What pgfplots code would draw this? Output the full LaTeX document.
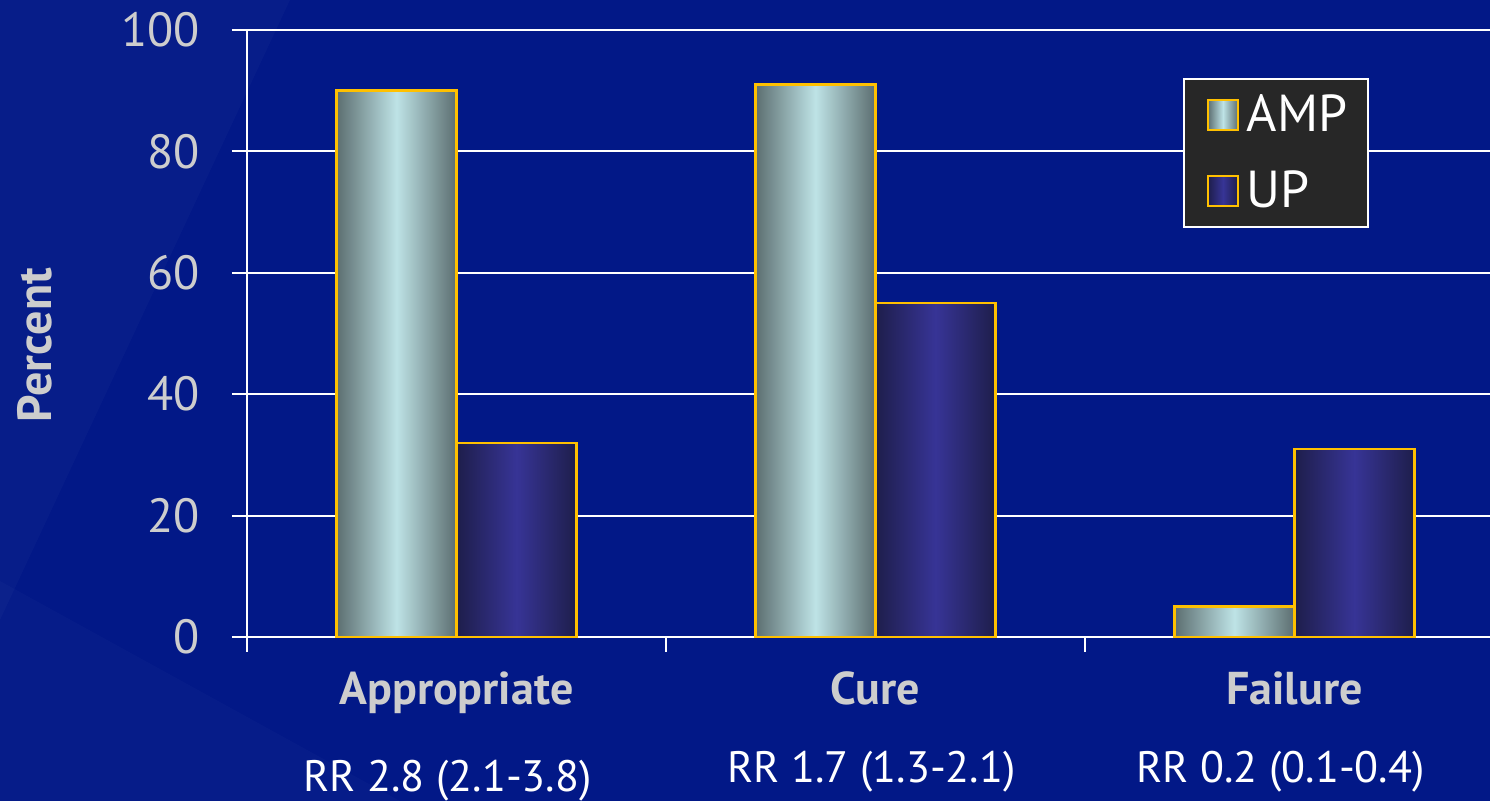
\documentclass[border=0pt]{standalone}
\usepackage{pgfplots}
\pgfplotsset{compat=1.18}
\usepackage{fontspec}
\setmainfont{PT Sans}
\definecolor{bg}{RGB}{2,24,135}
\definecolor{lblgray}{RGB}{205,205,205}
\definecolor{ampdark}{RGB}{92,110,112}
\definecolor{amplight}{RGB}{190,227,230}
\definecolor{updark}{RGB}{30,30,75}
\definecolor{uplight}{RGB}{55,52,150}
\definecolor{gold}{RGB}{255,192,0}
\definecolor{legbg}{RGB}{39,39,39}
\pgfplotsset{
  ampbar/.style={ybar, bar width=60pt, bar shift=-30pt, draw=gold, line width=1.2pt,
    left color=ampdark, right color=ampdark, middle color=amplight},
  upbar/.style={ybar, bar width=60pt, bar shift=30pt, draw=gold, line width=1.2pt,
    left color=updark, right color=updark, middle color=uplight},
}
\begin{document}
\begin{tikzpicture}
\fill[bg] (0pt,0pt) rectangle (745pt,400.5pt);
\fill[white,opacity=0.025] (0pt,400.5pt) -- (145pt,400.5pt) -- (0pt,90.5pt) -- cycle;
\fill[white,opacity=0.02] (0pt,0pt) -- (200pt,0pt) -- (0pt,110pt) -- cycle;
\useasboundingbox (0pt,0pt) rectangle (745pt,400.5pt);
\begin{axis}[
  at={(123.5pt,82pt)}, anchor=south west,
  scale only axis, width=621.5pt, height=303.5pt,
  xmin=-0.5, xmax=2.467, ymin=0, ymax=100,
  clip=false,
  axis x line*=bottom, axis y line*=left,
  axis line style={white, line width=1pt, -},
  ytick={0,20,40,60,80,100},
  xtick={-0.5,0.5,1.5}, xticklabels={,,},
  tick align=outside, major tick length=7.5pt,
  tick style={white, line width=1pt},
  ymajorgrids, grid style={white, line width=1pt},
  yticklabel style={text=lblgray, font=\fontsize{24}{28}\selectfont, xshift=-12.5pt},
  /pgf/number format/assume math mode=true,
  extra x ticks={0,1,2},
  extra x tick labels={
    {\bfseries\color{lblgray}\fontsize{23}{27}\selectfont Appropriate\\[22pt]\color{white}\fontsize{22}{26}\selectfont\mdseries RR 2.8 (2.1-3.8)\hspace*{9pt}},
    {\bfseries\color{lblgray}\fontsize{23}{27}\selectfont Cure\\[22pt]\color{white}\fontsize{22}{26}\selectfont\mdseries RR 1.7 (1.3-2.1)\hspace*{4pt}},
    {\bfseries\color{lblgray}\fontsize{23}{27}\selectfont Failure\\[22pt]\color{white}\fontsize{22}{26}\selectfont\mdseries RR 0.2 (0.1-0.4)\hspace*{14pt}}},
  extra x tick style={major tick length=0pt, xticklabel style={align=center, yshift=-14pt}},
  ylabel={\bfseries Percent},
  ylabel style={at={(axis description cs:-0.1706,0.481)}, anchor=center, rotate=0, text=lblgray, font=\fontsize{24}{28}\selectfont},
  legend style={at={(rel axis cs:0.753,0.921)}, anchor=north west,
    fill=legbg, draw=white, line width=1pt, text=white,
    font=\fontsize{26}{30}\selectfont, row sep=14pt,
    inner xsep=8pt, inner ysep=6pt},
  legend cell align=left,
  legend image code/.code={%
    \pgfpathmoveto{\pgfqpoint{-4pt}{0pt}}\pgfpathlineto{\pgfqpoint{17.5pt}{0pt}}\pgfusepath{discard}%
    \draw[#1, line width=1.2pt] (0pt,-7.5pt) rectangle (15pt,7.5pt);},
]
\addplot[ampbar] coordinates {(0,90)};
\addlegendentry{AMP}
\addplot[upbar] coordinates {(0,32)};
\addlegendentry{UP}
\addplot[ampbar, forget plot] coordinates {(1,91)};
\addplot[upbar, forget plot] coordinates {(1,55)};
\addplot[ampbar, forget plot] coordinates {(2,5)};
\addplot[upbar, forget plot] coordinates {(2,31)};
\end{axis}
\end{tikzpicture}
\end{document}
